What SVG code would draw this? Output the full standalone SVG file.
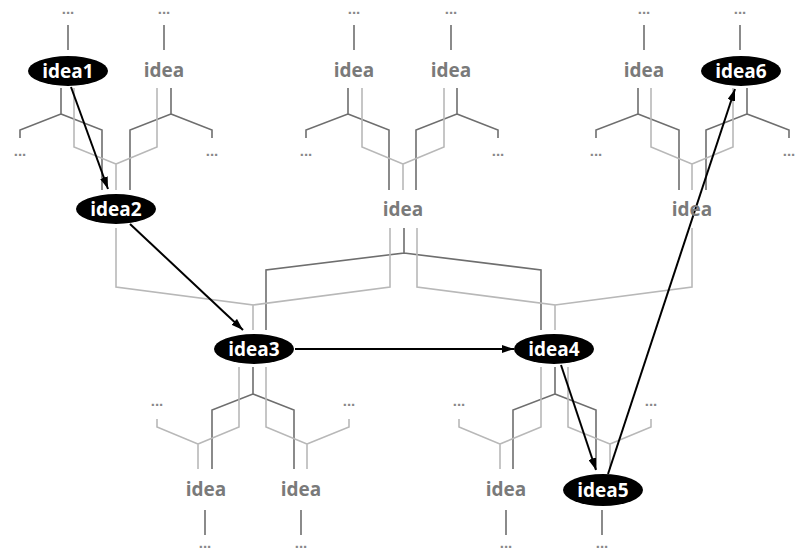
<svg xmlns="http://www.w3.org/2000/svg" width="802" height="552" viewBox="0 0 802 552">
<defs>
<style>
.dk{fill:none;stroke:#6e6e6e;stroke-width:1.6}
.lt{fill:none;stroke:#b8b8b8;stroke-width:1.6}
.ar{fill:none;stroke:#000;stroke-width:2}
.gt{font-family:"Open Sans","Liberation Sans",sans-serif;font-weight:bold;font-size:19px;fill:#7a7a7a;text-anchor:middle}
.wt{font-family:"Open Sans","Liberation Sans",sans-serif;font-weight:bold;font-size:19px;fill:#fff;text-anchor:middle}
.dots{font-family:"Liberation Sans",Arial,sans-serif;font-weight:bold;font-size:15px;fill:#888;text-anchor:middle}
.el{fill:#000}
</style>
<marker id="ah" viewBox="0 0 12 8" refX="12" refY="4" markerWidth="12" markerHeight="8" markerUnits="userSpaceOnUse" orient="auto">
<path d="M0,0 L12,4 L0,8 z" fill="#000"/>
</marker>
</defs>
<rect width="802" height="552" fill="#fff"/>
<g id="connectors">
<path class="dk" d="M68 25V50M164 25V50M354 25V50M451 25V50M644 25V50M740 25V50"/>
<path class="dk" d="M61 88V114L20 130V138M61 114L102 130V190"/>
<path class="dk" d="M171 88V114L130 130V190M171 114L212 130V138"/>
<path class="dk" d="M348 88V114L306 130V138M348 114L389 130V190"/>
<path class="dk" d="M457 88V114L416 130V190M457 114L498 130V138"/>
<path class="dk" d="M638 88V114L596 130V138M638 114L679 130V190"/>
<path class="dk" d="M747 88V114L706 130V190M747 114L789 130V138"/>
<path class="lt" d="M116 190V164L74 147V88M116 164L157 147V88"/>
<path class="lt" d="M403 190V164L362 147V88M403 164L444 147V88"/>
<path class="lt" d="M692 190V164L651 147V88M692 164L733 147V88"/>
<path class="dk" d="M404 228V253L266 270V330M404 253L541 270V330"/>
<path class="lt" d="M253 330V305L116 287V228M253 305L390 287V228"/>
<path class="lt" d="M555 330V305L417 287V228M555 305L692 287V228"/>
<path class="dk" d="M253 367V394L212 410V469M253 394L294 410V469"/>
<path class="dk" d="M555 367V394L513 410V469M555 394L596 410V469"/>
<path class="lt" d="M198 469V444L157 427V419M198 444L239 427V367"/>
<path class="lt" d="M307 469V444L266 427V367M307 444L349 427V419"/>
<path class="lt" d="M500 469V444L459 427V419M500 444L541 427V367"/>
<path class="lt" d="M610 469V444L568 427V367M610 444L651 427V419"/>
<path class="dk" d="M205 510V535M301 510V535M506 510V535M602 510V535"/>
<line class="ar" x1="71" y1="87" x2="108" y2="189" marker-end="url(#ah)"/>
<line class="ar" x1="130" y1="224" x2="243" y2="330" marker-end="url(#ah)"/>
<line class="ar" x1="295" y1="349" x2="514" y2="349" marker-end="url(#ah)"/>
<line class="ar" x1="561" y1="365" x2="596" y2="470" marker-end="url(#ah)"/>
<line class="ar" x1="608" y1="474" x2="735" y2="89" marker-end="url(#ah)"/>
</g>
<g id="dots">
<text class="dots" x="68" y="14">...</text>
<text class="dots" x="164" y="14">...</text>
<text class="dots" x="354" y="14">...</text>
<text class="dots" x="451" y="14">...</text>
<text class="dots" x="644" y="14">...</text>
<text class="dots" x="740" y="14">...</text>
<text class="dots" x="20" y="156">...</text>
<text class="dots" x="212" y="156">...</text>
<text class="dots" x="306" y="156">...</text>
<text class="dots" x="498" y="156">...</text>
<text class="dots" x="596" y="156">...</text>
<text class="dots" x="789" y="156">...</text>
<text class="dots" x="157" y="406">...</text>
<text class="dots" x="349" y="406">...</text>
<text class="dots" x="459" y="406">...</text>
<text class="dots" x="651" y="406">...</text>
<text class="dots" x="205" y="548">...</text>
<text class="dots" x="301" y="548">...</text>
<text class="dots" x="506" y="548">...</text>
<text class="dots" x="602" y="548">...</text>
</g>
<g id="idea1"><ellipse class="el" cx="68" cy="71" rx="40" ry="15"/><text class="wt" x="68" y="78">idea1</text></g>
<g id="idea-a"><text class="gt" x="164" y="77">idea</text></g>
<g id="idea-b"><text class="gt" x="354" y="77">idea</text></g>
<g id="idea-c"><text class="gt" x="451" y="77">idea</text></g>
<g id="idea-d"><text class="gt" x="644" y="77">idea</text></g>
<g id="idea6"><ellipse class="el" cx="741" cy="71" rx="40" ry="15"/><text class="wt" x="741" y="78">idea6</text></g>
<g id="idea2"><ellipse class="el" cx="116" cy="209" rx="40" ry="15"/><text class="wt" x="116" y="216">idea2</text></g>
<g id="idea-e"><text class="gt" x="403" y="216">idea</text></g>
<g id="idea-f"><text class="gt" x="692" y="216">idea</text></g>
<g id="idea3"><ellipse class="el" cx="254" cy="349" rx="40" ry="15"/><text class="wt" x="254" y="356">idea3</text></g>
<g id="idea4"><ellipse class="el" cx="554" cy="349" rx="40" ry="15"/><text class="wt" x="554" y="356">idea4</text></g>
<g id="idea-g"><text class="gt" x="206" y="496">idea</text></g>
<g id="idea-h"><text class="gt" x="301" y="496">idea</text></g>
<g id="idea-i"><text class="gt" x="506" y="496">idea</text></g>
<g id="idea5"><ellipse class="el" cx="603" cy="490" rx="40" ry="16"/><text class="wt" x="603" y="497">idea5</text></g>
</svg>
